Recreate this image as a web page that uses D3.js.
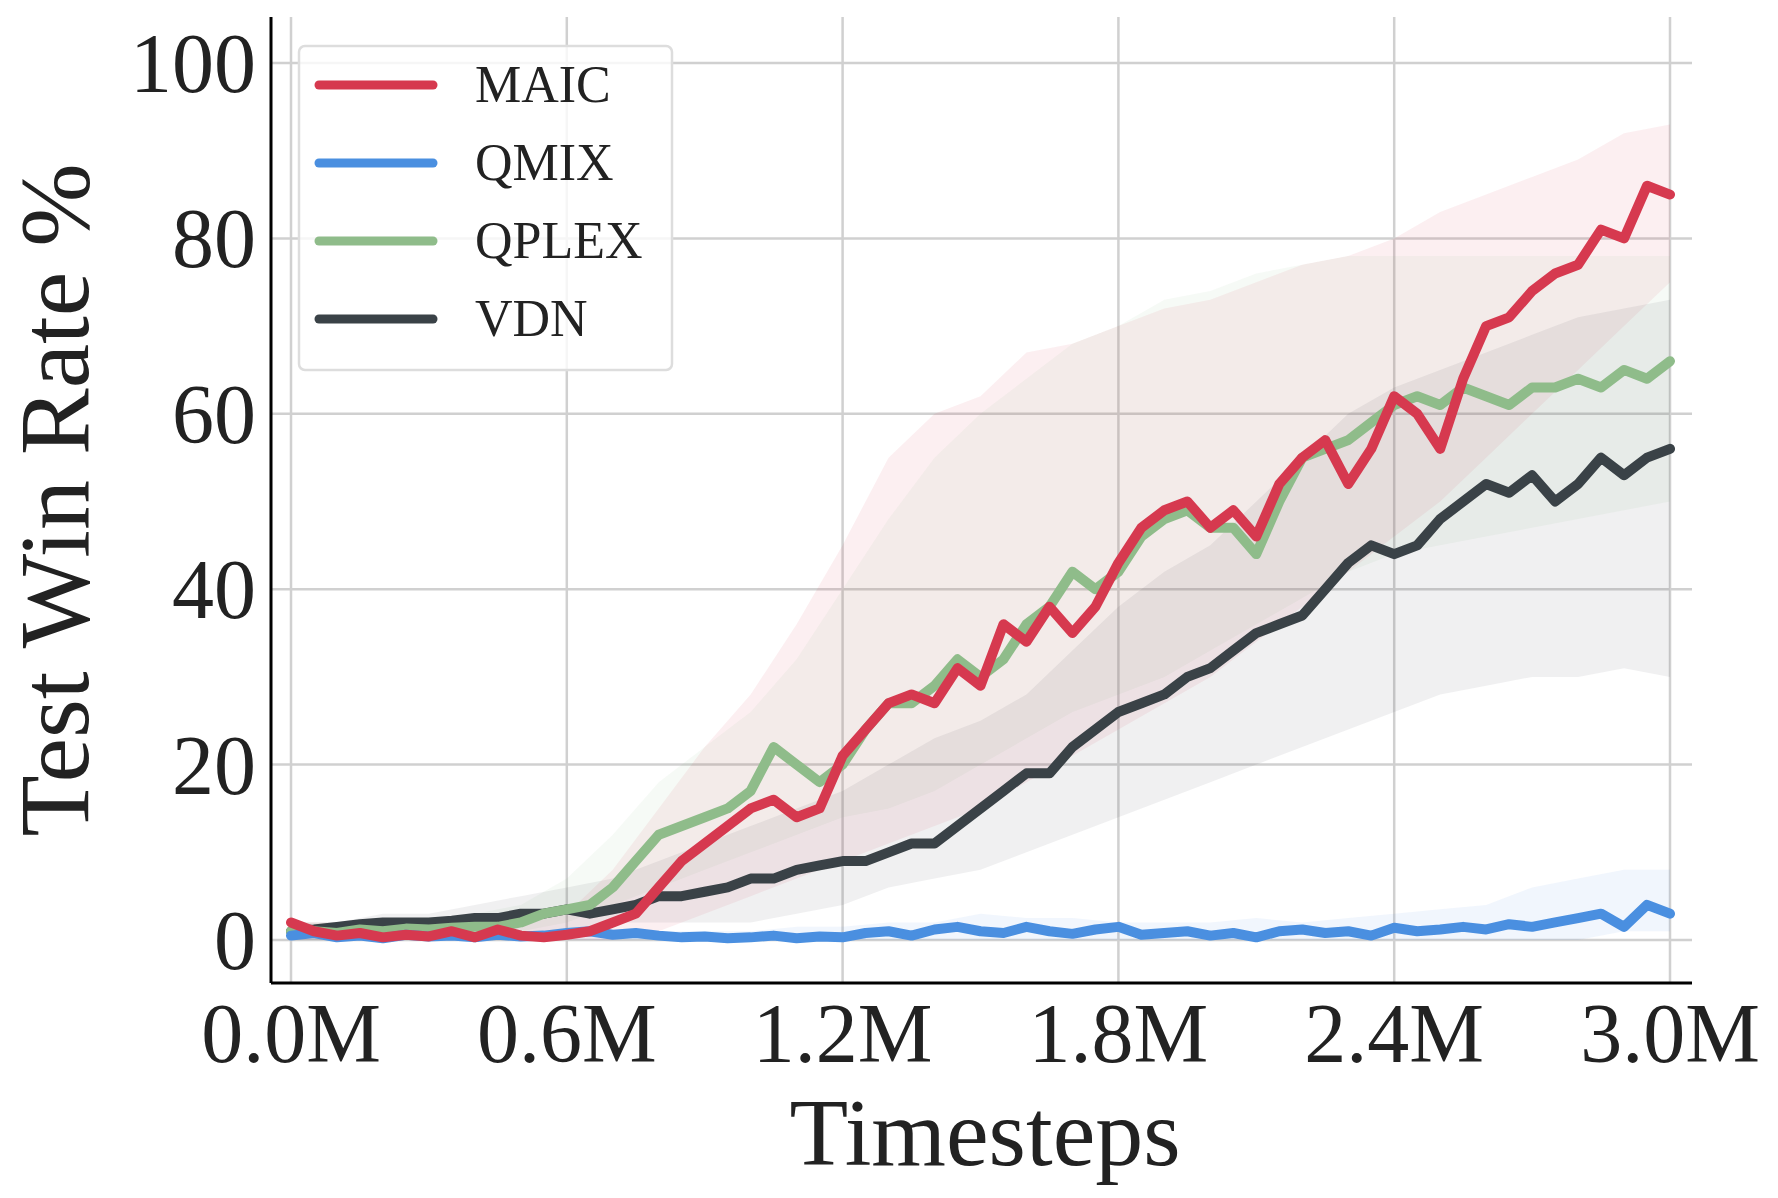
<!DOCTYPE html>
<html><head><meta charset="utf-8">
<script src="https://cdn.jsdelivr.net/npm/d3@7"></script>
<style>body{margin:0;background:#fff}svg{display:block}text{font-family:"Liberation Serif","Times New Roman",serif;fill:#222}</style>
</head><body><svg id="c" width="1778" height="1198"></svg>
<script>
const xs = d3.range(61).map(i => i * 0.05);
const xb = d3.range(31).map(i => i * 0.1);
const xTicks = [0, 0.6, 1.2, 1.8, 2.4, 3.0];
const yTicks = [0, 20, 40, 60, 80, 100];
const names = ["MAIC", "QMIX", "QPLEX", "VDN"];
const colors = ["#d6394f", "#4a8fe0", "#8fbc8a", "#3a4247"];
const maic = [2,1,0.5,0.8,0.3,0.6,0.4,1,0.3,1.2,0.5,0.3,0.6,1,2,3,6,9,11,13,15,16,14,15,21,24,27,28,27,31,29,36,34,38,35,38,43,47,49,50,47,49,46,52,55,57,52,56,62,60,56,64,70,71,74,76,77,81,80,86,85];
const qmix = [0.5,0.8,0.3,0.5,0.2,0.6,0.4,0.5,0.3,0.6,0.4,0.5,0.8,1,0.6,0.8,0.5,0.3,0.4,0.2,0.3,0.5,0.2,0.4,0.3,0.8,1,0.5,1.2,1.5,1,0.8,1.5,1,0.7,1.2,1.5,0.6,0.8,1,0.5,0.8,0.3,1,1.2,0.8,1,0.5,1.4,1,1.2,1.5,1.2,1.8,1.5,2,2.5,3,1.5,4,3];
const qplex = [1,1,0.8,1.2,1,1.3,1.2,1.4,1.5,1.5,2,3,3.5,4,6,9,12,13,14,15,17,22,20,18,20,24,27,27,29,32,30,32,36,38,42,40,42,46,48,49,47,47,44,50,55,56,57,59,61,62,61,63,62,61,63,63,64,63,65,64,66];
const vdn = [1,1.2,1.5,1.8,2,2,2,2.2,2.5,2.5,3,3,3.5,3,3.5,4,5,5,5.5,6,7,7,8,8.5,9,9,10,11,11,13,15,17,19,19,22,24,26,27,28,30,31,33,35,36,37,40,43,45,44,45,48,50,52,51,53,50,52,55,53,55,56];
const maicLo = [0,0,0,0,0,0,0,0,1,3,5,7,9,11,13,15,18,21,24,27,30,34,38,42,46,50,55,60,65,70,75];
const maicHi = [2,2,2,2,2,2,3,8,15,22,28,36,45,55,60,62,67,68,70,72,73,75,77,78,80,83,85,87,89,92,93];
const qplexLo = [0,0,0,0,0,1,2,4,6,8,10,12,14,15,17,20,23,26,28,30,33,36,39,42,44,45,46,47,48,49,50];
const qplexHi = [2,2,2,2,3,4,7,12,18,22,26,32,40,48,55,60,64,68,70,73,74,76,77,78,78,78,78,78,78,78,78];
const vdnLo = [0,0,0,1,1,1,1,2,2,2,2,3,4,6,7,8,10,12,14,16,18,20,22,24,26,28,29,30,30,31,30];
const vdnHi = [2,2,3,3,4,5,6,7,9,11,13,15,17,20,23,25,28,33,38,42,45,50,55,60,63,65,67,69,71,72,73];
const qmixLo = [0,0,0,0,0,0,0,0,0,0,0,0,0,0,0,0,0,0,0,0,0,0,0,0,0,0,0,0,0,1,1];
const qmixHi = [1,1,1,1,1,1,1,1,1,1,1,1.5,1.5,2,2,3,2.5,2.5,2,2,2,2.5,2,2.5,3,3.5,4,6,7,8,8];

const svg = d3.select("#c");
const x = d3.scaleLinear().domain([0, 3]).range([291, 1670]);
const y = d3.scaleLinear().domain([0, 100]).range([940, 63]);
const L = 271, R = 1692, T = 17, B = 983;

const g = svg.append("g");
g.selectAll(".gx").data(xTicks).join("line").attr("x1", d => x(d)).attr("x2", d => x(d)).attr("y1", T).attr("y2", B).attr("stroke", "#d0d0d0").attr("stroke-width", 2.5);
g.selectAll(".gy").data(yTicks).join("line").attr("x1", L).attr("x2", R).attr("y1", d => y(d)).attr("y2", d => y(d)).attr("stroke", "#d0d0d0").attr("stroke-width", 2.5);

const bands = [[maicLo, maicHi, 0], [qmixLo, qmixHi, 1], [qplexLo, qplexHi, 2], [vdnLo, vdnHi, 3]];
const area = d3.area().x((d, i) => x(xb[i])).y0(d => y(d[0])).y1(d => y(d[1]));
bands.forEach(([lo, hi, c]) => {
  svg.append("path").datum(lo.map((v, i) => [v, hi[i]])).attr("d", area).attr("fill", colors[c]).attr("fill-opacity", 0.08);
});
const line = d3.line().x((d, i) => x(xs[i])).y(d => y(d));
const series = [maic, qmix, qplex, vdn];
[3, 2, 1, 0].forEach(i => {
  svg.append("path").datum(series[i]).attr("d", line).attr("fill", "none").attr("stroke", colors[i]).attr("stroke-width", 10).attr("stroke-linejoin", "round").attr("stroke-linecap", "round");
});

svg.append("line").attr("x1", L).attr("x2", L).attr("y1", T).attr("y2", B).attr("stroke", "#000").attr("stroke-width", 3);
svg.append("line").attr("x1", L).attr("x2", R).attr("y1", B).attr("y2", B).attr("stroke", "#000").attr("stroke-width", 3);

svg.selectAll(".xt").data(xTicks).join("text").attr("x", d => x(d)).attr("y", 1062).attr("text-anchor", "middle").attr("font-size", 84).text(d => d.toFixed(1) + "M");
svg.selectAll(".yt").data(yTicks).join("text").attr("x", 256).attr("y", d => y(d) + 29).attr("text-anchor", "end").attr("font-size", 84).text(d => d);
svg.append("text").attr("x", 985).attr("y", 1165).attr("text-anchor", "middle").attr("font-size", 96).text("Timesteps");
svg.append("text").attr("transform", "translate(88,500) rotate(-90)").attr("text-anchor", "middle").attr("font-size", 100).text("Test Win Rate %");

const lg = svg.append("g");
lg.append("rect").attr("x", 299).attr("y", 46).attr("width", 373).attr("height", 324).attr("rx", 6).attr("fill", "#fff").attr("fill-opacity", 0.8).attr("stroke", "#ddd").attr("stroke-width", 2.5);
names.forEach((n, i) => {
  const yy = 85 + i * 78;
  lg.append("line").attr("x1", 319).attr("x2", 433).attr("y1", yy).attr("y2", yy).attr("stroke", colors[i]).attr("stroke-width", 9).attr("stroke-linecap", "round");
  lg.append("text").attr("x", 475).attr("y", yy + 17).attr("font-size", 52).text(n);
});
</script></body></html>
